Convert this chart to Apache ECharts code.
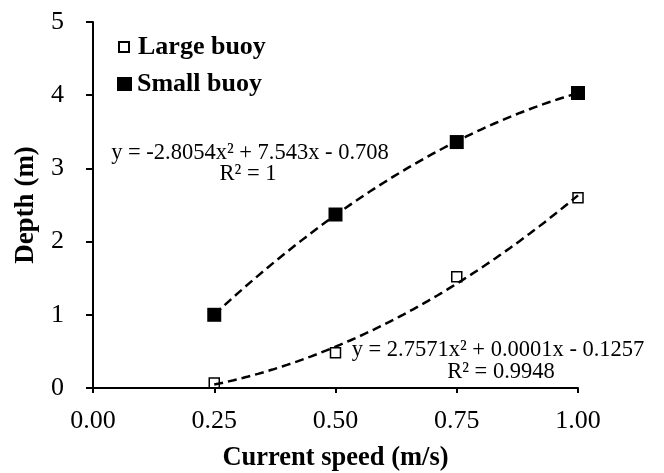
<!DOCTYPE html>
<html>
<head>
<meta charset="utf-8">
<script src="https://cdn.jsdelivr.net/npm/echarts@6/dist/echarts.min.js"></script>
<style>
  html, body { margin: 0; padding: 0; background: #fff; }
  #chart { width: 664px; height: 473px; }
</style>
</head>
<body>
<div id="chart"></div>
<script>
// current speed (m/s)
const speeds = [0.25, 0.5, 0.75, 1.0];
// depth (m)
const largeBuoy = [0.07, 0.48, 1.52, 2.6];
const smallBuoy = [1.0, 2.37, 3.36, 4.03];
// trendline coefficients as printed on the chart [a, b, c] for a*x^2 + b*x + c
const largeFit = [2.7571, 0.0001, -0.1257];
const smallFit = [-2.8054, 7.543, -0.708];
const largeEq = ['y = 2.7571x² + 0.0001x - 0.1257', 'R² = 0.9948'];
const smallEq = ['y = -2.8054x² + 7.543x - 0.708', 'R² = 1'];

const FONT = "'Liberation Serif', 'Times New Roman', serif";

function trend(coef) {
  const pts = [];
  for (let i = 0; i <= 75; i++) {
    const x = 0.25 + i * 0.01;
    pts.push([x, coef[0] * x * x + coef[1] * x + coef[2]]);
  }
  return pts;
}

const myChart = echarts.init(document.getElementById('chart'));
const dashStyle = {color: '#000', width: 2.5, type: [9, 5]};
const eqFont = '22.5px ' + FONT;

myChart.setOption({
  animation: false,
  backgroundColor: '#fff',
  grid: {left: 93, right: 86, top: 22, bottom: 85, outerBoundsMode: 'none', containLabel: false},
  legend: [
    {
      data: ['Large buoy'],
      left: 118, top: 34, padding: 0,
      itemWidth: 10, itemHeight: 10,
      textStyle: {fontFamily: FONT, fontSize: 26, fontWeight: 'bold', color: '#000', padding: [0, 0, 0, 4]},
    },
    {
      data: ['Small buoy'],
      left: 117, top: 71, padding: 0,
      itemWidth: 15, itemHeight: 14,
      textStyle: {fontFamily: FONT, fontSize: 26, fontWeight: 'bold', color: '#000'},
    },
  ],
  xAxis: {
    type: 'value',
    min: 0, max: 1, interval: 0.25,
    name: 'Current speed (m/s)',
    nameLocation: 'middle',
    nameGap: 57,
    nameTextStyle: {fontFamily: FONT, fontSize: 26.5, fontWeight: 'bold', color: '#000'},
    axisLine: {show: true, lineStyle: {color: '#000', width: 2}},
    axisTick: {show: true, length: 5, lineStyle: {color: '#000', width: 2}},
    axisLabel: {
      fontFamily: FONT, fontSize: 26, color: '#000', margin: 20,
      formatter: (v) => v.toFixed(2),
    },
    splitLine: {show: false},
  },
  yAxis: {
    type: 'value',
    min: 0, max: 5, interval: 1,
    name: 'Depth (m)',
    nameLocation: 'middle',
    nameGap: 53,
    nameTextStyle: {fontFamily: FONT, fontSize: 27, fontWeight: 'bold', color: '#000'},
    axisLine: {show: true, lineStyle: {color: '#000', width: 2}},
    axisTick: {show: true, length: 7, lineStyle: {color: '#000', width: 2}},
    axisLabel: {fontFamily: FONT, fontSize: 26, color: '#000', margin: 29},
    splitLine: {show: false},
  },
  series: [
    {
      name: 'Large buoy trend',
      type: 'line',
      data: trend(largeFit),
      showSymbol: false,
      silent: true,
      lineStyle: dashStyle,
      z: 2,
    },
    {
      name: 'Small buoy trend',
      type: 'line',
      data: trend(smallFit),
      showSymbol: false,
      silent: true,
      lineStyle: dashStyle,
      z: 2,
    },
    {
      name: 'Large buoy',
      type: 'scatter',
      symbol: 'rect',
      symbolSize: 10,
      data: speeds.map((x, i) => [x, largeBuoy[i]]),
      itemStyle: {color: 'rgba(0,0,0,0)', borderColor: '#000', borderWidth: 1.5, opacity: 1},
      z: 4,
    },
    {
      name: 'Small buoy',
      type: 'scatter',
      symbol: 'rect',
      symbolSize: 14,
      data: speeds.map((x, i) => [x, smallBuoy[i]]),
      itemStyle: {color: '#000', opacity: 1},
      z: 4,
    },
  ],
  graphic: [
    {
      type: 'text', x: 250, y: 153,
      style: {text: smallEq[0], font: eqFont, fill: '#000', align: 'center', verticalAlign: 'middle'},
    },
    {
      type: 'text', x: 248, y: 174,
      style: {text: smallEq[1], font: eqFont, fill: '#000', align: 'center', verticalAlign: 'middle'},
    },
    {
      type: 'text', x: 498, y: 350,
      style: {text: largeEq[0], font: eqFont, fill: '#000', align: 'center', verticalAlign: 'middle'},
    },
    {
      type: 'text', x: 501, y: 372,
      style: {text: largeEq[1], font: eqFont, fill: '#000', align: 'center', verticalAlign: 'middle'},
    },
  ],
});
</script>
</body>
</html>
